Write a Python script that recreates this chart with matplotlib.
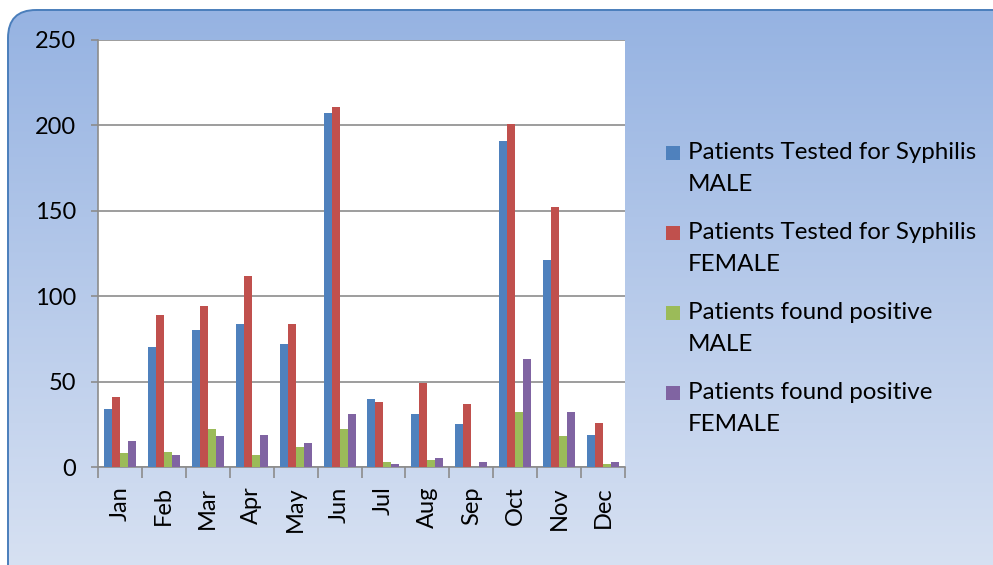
import numpy as np
import matplotlib
matplotlib.use("Agg")
import matplotlib.pyplot as plt
from matplotlib.patches import FancyBboxPatch, Rectangle

months = ["Jan", "Feb", "Mar", "Apr", "May", "Jun", "Jul", "Aug", "Sep", "Oct", "Nov", "Dec"]
tested_male = [34, 70, 80, 84, 72, 207, 40, 31, 25, 191, 121, 19]
tested_female = [41, 89, 94, 112, 84, 211, 38, 49, 37, 201, 152, 26]
positive_male = [8, 9, 22, 7, 12, 22, 3, 4, 0, 32, 18, 2]
positive_female = [15, 7, 18, 19, 14, 31, 2, 5, 3, 63, 32, 3]
series_labels = ["Patients Tested for Syphilis\nMALE",
                 "Patients Tested for Syphilis\nFEMALE",
                 "Patients found positive\nMALE",
                 "Patients found positive\nFEMALE"]
series_values = [tested_male, tested_female, positive_male, positive_female]
colors = ["#4F81BD", "#C0504D", "#9BBB59", "#8064A2"]
yticks = [0, 50, 100, 150, 200, 250]

W, H = 993, 565
plt.rcParams['font.family'] = ['Lato', 'DejaVu Sans']
fig = plt.figure(figsize=(W / 100, H / 100), dpi=100)

# background panel with gradient
bg = fig.add_axes([0, 0, 1, 1])
bg.set_xlim(0, W)
bg.set_ylim(H, 0)
bg.axis("off")
panel = FancyBboxPatch((8, 10), 1040, 620, boxstyle="round,pad=0,rounding_size=28",
                       facecolor="none", edgecolor="#4A7EBB", lw=1.4, zorder=2)
bg.add_patch(panel)
top = np.array([0x96, 0xB3, 0xE2]) / 255
bot = np.array([0xDE, 0xE6, 0xF4]) / 255
t = np.linspace(0, 1, 256)[:, None]
grad = (top[None, :] * (1 - t) + bot[None, :] * t)[:, None, :]
im = bg.imshow(grad, extent=(8, 1048, 630, 10), aspect="auto", zorder=1)
im.set_clip_path(panel)

# main plot
x0, x1, ytop, ybot = 98, 625, 40, 467
ax = fig.add_axes([x0 / W, (H - ybot) / H, (x1 - x0) / W, (ybot - ytop) / H])
ax.set_facecolor("white")
n = len(months)
x = np.arange(n)
bw = 1 / 5.5
for i, (vals, c) in enumerate(zip(series_values, colors)):
    ax.bar(x + (i - 1.5) * bw, vals, width=bw, color=c, edgecolor="none", zorder=3)

ax.set_xlim(-0.5, n - 0.5)
ax.set_ylim(0, 250)
ax.set_yticks(yticks)
ax.set_yticklabels([str(v) for v in yticks], fontsize=17)
ax.yaxis.grid(True, color="#8C8C8C", lw=1.2, zorder=0)
ax.set_axisbelow(True)
ax.tick_params(axis="y", length=5, color="#8C8C8C", pad=11, width=1.2)
ax.set_xticks(x)
ax.set_xticklabels(months, rotation=90, fontsize=17)
ax.set_xticks(np.arange(-0.5, n, 1), minor=True)
ax.tick_params(axis="x", which="major", length=0, pad=14)
ax.tick_params(axis="x", which="minor", length=8, color="#8C8C8C", width=1.2)
for s in ["top", "right"]:
    ax.spines[s].set_visible(False)
for s in ["left", "bottom"]:
    ax.spines[s].set_color("#8C8C8C")
    ax.spines[s].set_linewidth(1.2)

# legend
for i, (lab, c) in enumerate(zip(series_labels, colors)):
    yc = 153 + 80 * i
    bg.add_patch(Rectangle((666, yc - 7), 14, 14, facecolor=c, edgecolor="none", zorder=5))
    bg.text(688, yc - 11, lab, fontsize=17.4, va="top", ha="left", linespacing=1.66, zorder=5)

fig.savefig("out.png", dpi=100)
